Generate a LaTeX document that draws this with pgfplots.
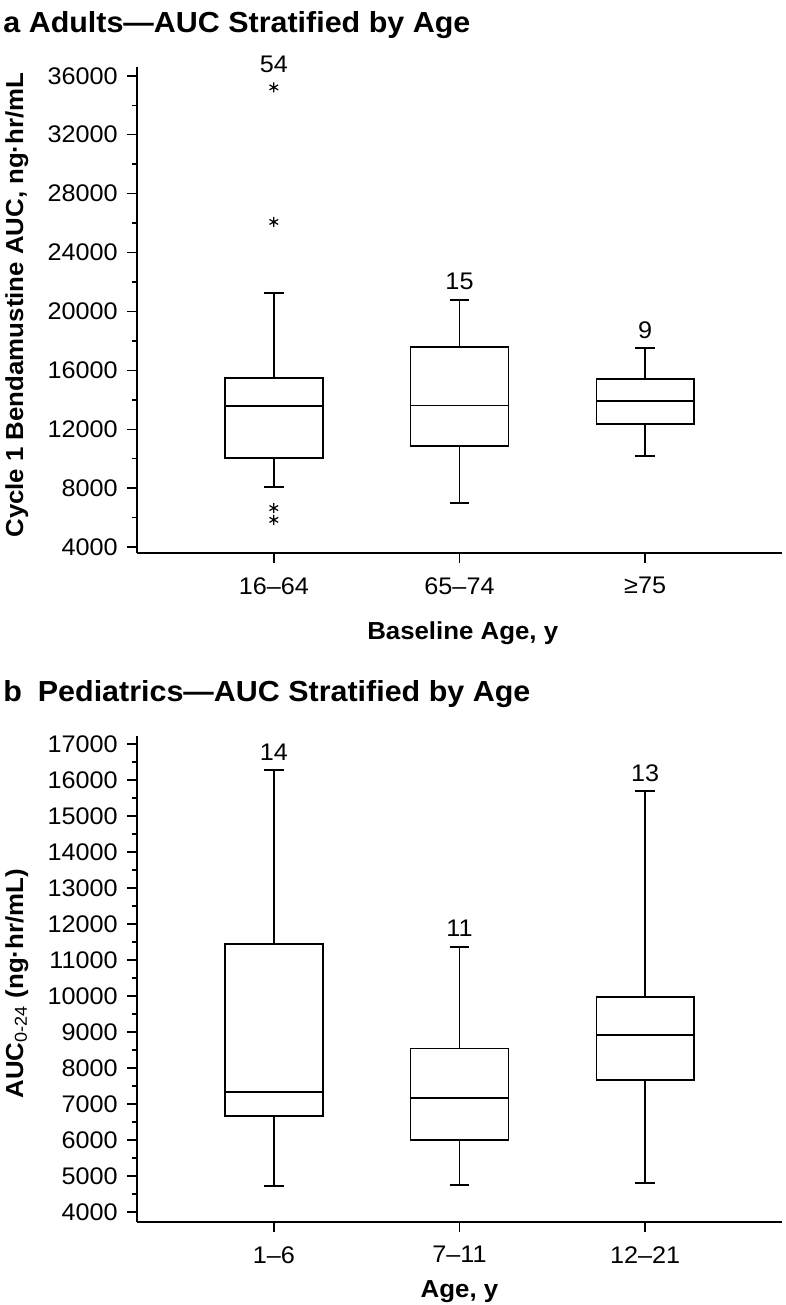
\documentclass[border=0pt]{standalone}
\usepackage{fontspec}
\setmainfont{Liberation Sans}[FakeStretch=1.05]
\usepackage{pgfplots}
\pgfplotsset{compat=1.18}
\usepgfplotslibrary{statistics}

\pgfplotsset{
  panel/.style={
    scale only axis, width=322.5pt, height=243pt, anchor=south west,
    boxplot/draw direction=y,
    axis x line*=bottom, axis y line*=left,
    axis line style={line width=0.75pt},
    xmin=0.263, xmax=3.737, xtick={1,2,3},
    tick align=outside, major tick length=5pt, minor tick length=2.5pt,
    tick style={black, line width=0.75pt},
    minor y tick num=1,
    scaled y ticks=false,
    tick label style={font=\fontsize{12}{12}\selectfont},
    /pgf/number format/assume math mode=true,
    /pgf/number format/1000 sep={},
    xticklabel style={inner sep=0pt, yshift=-7pt},
    yticklabel style={inner sep=0pt, xshift=-4.5pt},
    label style={font=\bfseries\fontsize{12.3}{12.3}\selectfont, inner sep=0pt},
    clip=false,
  },
  bx/.style={black, solid, line width=0.75pt, mark=asterisk, mark size=2.5pt,
    mark options={line width=0.6pt},
    boxplot/box extend=0.527, boxplot/whisker extend=0.107,
    boxplot/every median/.style={line width=0.75pt}},
}
\tikzset{cnt/.style={font=\fontsize{12}{12}\selectfont, inner sep=0pt}}

\begin{document}
\begin{tikzpicture}
\useasboundingbox (0,0) rectangle (393pt,652.5pt);

\node[anchor=base west, inner sep=0pt, font=\bfseries\fontsize{14.5}{14.5}\selectfont]
  at (1.5pt,636pt) {a Adults—AUC Stratified by Age};
\node[anchor=base west, inner sep=0pt, font=\bfseries\fontsize{14.5}{14.5}\selectfont]
  at (1.5pt,301.5pt) {b\hspace{0.55em}Pediatrics—AUC Stratified by Age};

% a: adults
\begin{axis}[panel, at={(68.5pt,376pt)},
  ymin=3600, ymax=36600, ytick={4000,8000,...,36000},
  xticklabels={16–64,65–74,≥75},
  xlabel={Baseline Age, y},
  ylabel={Cycle 1 Bendamustine AUC, ng·hr/mL},
  xlabel style={at={(axis description cs:0.505,0)}, anchor=north, yshift=-34pt},
  ylabel style={at={(axis description cs:-0.2047,0.51)}, anchor=north},
]
\addplot[bx, boxplot prepared={draw position=1, lower whisker=8076, lower quartile=10050,
  median=13580, upper quartile=15480, upper whisker=21255}]
  coordinates {(1,35216) (1,26079) (1,6650) (1,5850)};
\addplot[bx, boxplot prepared={draw position=2, lower whisker=6990, lower quartile=10860,
  median=13600, upper quartile=17590, upper whisker=20780}]
  coordinates {};
\addplot[bx, boxplot prepared={draw position=3, lower whisker=10180, lower quartile=12360,
  median=13920, upper quartile=15430, upper whisker=17520}]
  coordinates {};
\node[cnt] at (axis cs:1,36781) {54};
\node[cnt] at (axis cs:2,22037) {15};
\node[cnt] at (axis cs:3,18742) {9};
\end{axis}

% b: pediatrics
\begin{axis}[panel, at={(68.5pt,41.5pt)},
  ymin=3722, ymax=17222, ytick={4000,5000,...,17000},
  xticklabels={1–6,7–11,12–21},
  xlabel={Age, y},
  ylabel={AUC\textsubscript{\mdseries 0-24} (ng·hr/mL)},
  xlabel style={at={(axis description cs:0.5,0)}, anchor=north, yshift=-29pt},
  ylabel style={at={(axis description cs:-0.2047,0.49)}, anchor=north},
]
\addplot[bx, boxplot prepared={draw position=1, lower whisker=4722, lower quartile=6667,
  median=7333, upper quartile=11444, upper whisker=16278}]
  coordinates {};
\addplot[bx, boxplot prepared={draw position=2, lower whisker=4750, lower quartile=6000,
  median=7167, upper quartile=8537, upper whisker=11361}]
  coordinates {};
\addplot[bx, boxplot prepared={draw position=3, lower whisker=4806, lower quartile=7667,
  median=8917, upper quartile=9972, upper whisker=15694}]
  coordinates {};
\node[cnt] at (axis cs:1,16778) {14};
\node[cnt] at (axis cs:2,11875) {11};
\node[cnt] at (axis cs:3,16194) {13};
\end{axis}
\end{tikzpicture}
\end{document}
